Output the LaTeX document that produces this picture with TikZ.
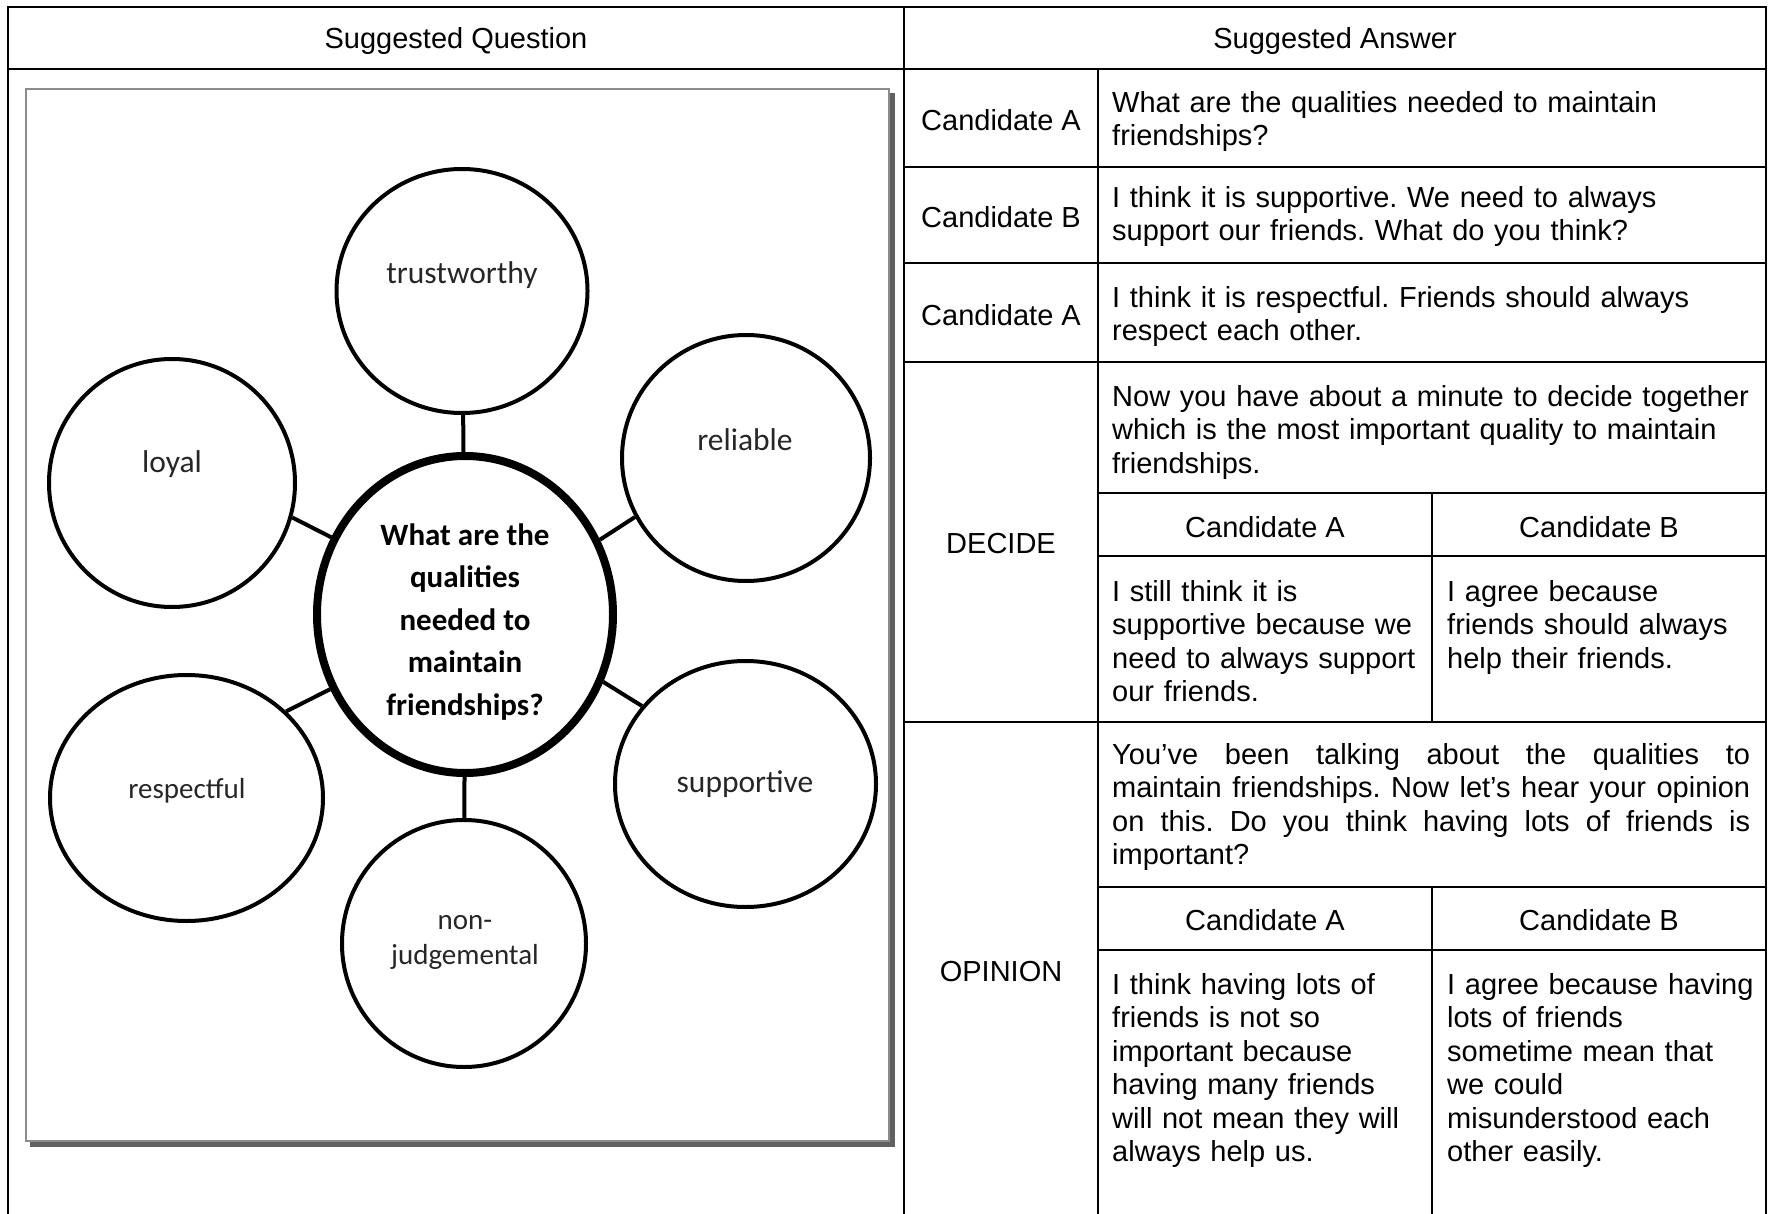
\documentclass[tikz,border=0pt]{standalone}
\usepackage{fontspec}
\setmainfont{Liberation Sans}
\newfontfamily\carl{Carlito}
\usetikzlibrary{shapes.geometric}
\setlength\parindent{0pt}
\frenchspacing
\begin{document}
\frenchspacing
\begin{tikzpicture}[x=1pt,y=-1pt,
  tline/.style={line width=2.6pt, black, line cap=rect},
  bub/.style={ellipse, draw=black, line width=4pt, inner sep=0pt, fill=white},
  hub/.style={ellipse, draw=black, line width=8pt, inner sep=0pt, fill=white},
  link/.style={line width=4pt, black},
  blab/.style={font=\carl\fontsize{31.5}{38}\selectfont, text=black!85, inner sep=0pt, align=center},
  slab/.style={font=\carl\fontsize{29}{35}\selectfont, text=black!85, inner sep=0pt, align=center},
  tlab/.style={font=\fontsize{29}{33.5}\selectfont, inner sep=0pt},
  tcell/.style={font=\fontsize{29}{33.5}\selectfont\frenchspacing, inner sep=0pt, anchor=north west, text width=#1, align=left},
]
\useasboundingbox (0,0) rectangle (1769,1214);
\fill[white] (0,0) rectangle (1769,1214);

% picture frame
\fill[black!62] (30,93) rectangle (895,1147);
\filldraw[fill=white, draw=black!45, line width=2pt] (26,89) rectangle (889,1141);

% mind map
\node[hub, minimum width=296pt, minimum height=317pt] (ctr) at (465,614.5) {};
\node[bub, minimum width=251pt, minimum height=244pt] (trust) at (462,291) {};
\node[bub, minimum width=246pt, minimum height=248pt] (loyal) at (172,483) {};
\node[bub, minimum width=248pt, minimum height=246pt] (rel) at (746,458) {};
\node[bub, minimum width=273pt, minimum height=246pt] (resp) at (186.5,798) {};
\node[bub, minimum width=261pt, minimum height=246pt] (supp) at (745.5,784) {};
\node[bub, minimum width=244pt, minimum height=247pt] (nonj) at (464,943.5) {};

\draw[link] (trust) -- (ctr);
\draw[link] (nonj) -- (ctr);
\draw[link] (loyal.-16.6) -- (ctr.150);
\draw[link] (rel.208.8) -- (ctr.29.3);
\draw[link] (resp.41.9) -- (ctr.-151);
\draw[link] (supp.143.4) -- (ctr.-26.7);

\node[font=\carl\bfseries\fontsize{31}{42.5}\selectfont, align=center, inner sep=0pt] (qText) at (465,622)
  {What are the\\qualities\\needed to\\maintain\\friendships?};
\node[blab] (tTrust) at (462,275) {trustworthy};
\node[blab] (tLoyal) at (172,464) {loyal};
\node[blab] (tRel) at (745,440) {reliable};
\node[slab] (tResp) at (187,791) {respectful};
\node[blab] (tSupp) at (745,784) {supportive};
\node[slab] (tNonj) at (465,942) {non-\\judgemental};

% table lines
\draw[tline] (8,7) -- (1766,7);
\draw[tline] (8,7) -- (8,1214);
\draw[tline] (1766,7) -- (1766,1214);
\draw[tline] (904,7) -- (904,1214);
\draw[tline] (8,69) -- (1766,69);
\draw[tline] (904,167) -- (1766,167);
\draw[tline] (904,263) -- (1766,263);
\draw[tline] (904,362) -- (1766,362);
\draw[tline] (1098,69) -- (1098,1214);
\draw[tline] (1098,493) -- (1766,493);
\draw[tline] (1098,556) -- (1766,556);
\draw[tline] (1432,493) -- (1432,722);
\draw[tline] (904,722) -- (1766,722);
\draw[tline] (1098,887) -- (1766,887);
\draw[tline] (1098,950) -- (1766,950);
\draw[tline] (1432,887) -- (1432,1214);

% table texts
\node[tlab] (hQ) at (456,41) {Suggested Question};
\node[tlab] (hA) at (1335,41) {Suggested Answer};
\node[tlab] (r1) at (1001,120) {Candidate A};
\node[tlab] (r2) at (1001,217) {Candidate B};
\node[tlab] (r3) at (1001,315) {Candidate A};
\node[tlab] (dec) at (1001,544) {DECIDE};
\node[tlab] (opi) at (1001,972) {OPINION};
\node[tlab] (dA) at (1265,527) {Candidate A};
\node[tlab] (dB) at (1599,527) {Candidate B};
\node[tlab] (oA) at (1265,920) {Candidate A};
\node[tlab] (oB) at (1599,920) {Candidate B};

\node[tcell=660pt] (t1) at (1112,88.6) {\strut What are the qualities needed to maintain\\friendships?};
\node[tcell=660pt] (t2) at (1112,183.6) {\strut I think it is supportive. We need to always\\support our friends. What do you think?};
\node[tcell=660pt] (t3) at (1112,283.6) {\strut I think it is respectful. Friends should always\\respect each other.};
\node[tcell=660pt] (tDec) at (1112,382.6) {\strut Now you have about a minute to decide together\\which is the most important quality to maintain\\friendships.};
\node[tcell=330pt] (tDA) at (1112,577.6) {\strut I still think it is\\supportive because we\\need to always support\\our friends.};
\node[tcell=330pt] (tDB) at (1447,577.6) {\strut I agree because\\friends should always\\help their friends.};
\node[font=\fontsize{29}{33.5}\selectfont\frenchspacing, inner sep=0pt, anchor=north west, text width=638pt, align=justify] (tOpi) at (1112,740.6)
  {\strut You’ve been talking about the qualities to\linebreak maintain friendships. Now let’s hear your opinion\linebreak on this. Do you think having lots of friends is\linebreak important?};
\node[tcell=330pt] (tOA) at (1112,970.6) {\strut I think having lots of\\friends is not so\\important because\\having many friends\\will not mean they will\\always help us.};
\node[tcell=330pt] (tOB) at (1447,970.6) {\strut I agree because having\\lots of friends\\sometime mean that\\we could\\misunderstood each\\other easily.};
\end{tikzpicture}
\end{document}
